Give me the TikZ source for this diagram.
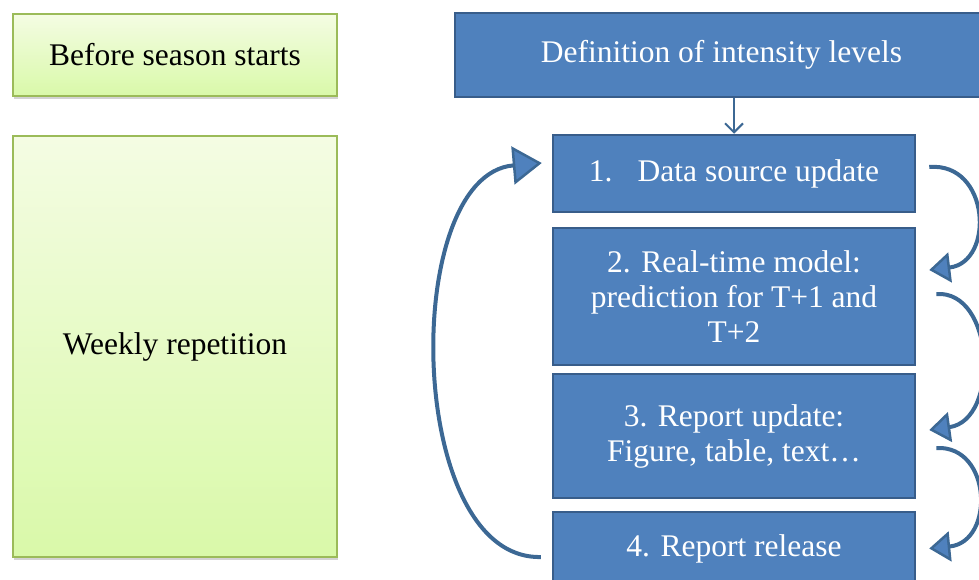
\documentclass[tikz,border=0pt]{standalone}
\usepackage{fontspec}
\setmainfont{Liberation Serif}
\usetikzlibrary{arrows.meta,shadows}
\definecolor{bfill}{HTML}{4F81BD}
\definecolor{bline}{HTML}{385D8A}
\definecolor{arr}{HTML}{3C6894}
\definecolor{gline}{HTML}{9BBB59}
\definecolor{gtop}{HTML}{F4FCE3}
\definecolor{gbot}{HTML}{D9F9A9}
\begin{document}
\begin{tikzpicture}[x=1pt,y=-1pt,
  greenbox/.style={draw=gline, line width=1.5pt, top color=gtop, bottom color=gbot,
    drop shadow={shadow xshift=1pt, shadow yshift=-3pt, opacity=0.35},
    inner sep=0pt, font=\fontsize{31.5}{35}\selectfont, text=black, align=center},
  bluebox/.style={draw=bline, line width=2.5pt, fill=bfill, inner sep=0pt,
    font=\fontsize{31.5}{35}\selectfont, text=white, align=center},
  flow/.style={draw=arr, line width=4pt,
    -{Triangle[length=21pt,width=30pt,fill=bfill,line width=2.5pt]}},
  bigflow/.style={draw=arr, line width=4pt,
    -{Triangle[length=29pt,width=38pt,fill=bfill,line width=2.5pt]}},
  thin/.style={draw=arr, line width=2pt, -{Straight Barb[length=9pt,width=18pt,line width=2pt]}}]
\useasboundingbox (0,0) rectangle (979,580);
\begin{scope}
\clip (0,0) rectangle (979,580);
\node[greenbox, minimum width=324pt, minimum height=82pt] (g1) at (175,55) {Before season starts};
\node[greenbox, minimum width=324pt, minimum height=421pt] (g2) at (175,346.5) {Weekly repetition};

\node[bluebox, minimum width=533pt, minimum height=84pt] (d) at (721.5,55) {Definition of intensity levels};
\node[bluebox, minimum width=362pt, minimum height=77pt] (b1) at (734,173.5) {1.\hspace{0.8em}Data source update};
\node[bluebox, minimum width=362pt, minimum height=137pt] (b2) at (734,296.5) {2. Real-time model:\\prediction for T+1 and\\T+2};
\node[bluebox, minimum width=362pt, minimum height=124pt] (b3) at (734,436) {3. Report update:\\Figure, table, text\dots};
\node[bluebox, minimum width=362pt, minimum height=73pt] (b4) at (734,548.5) {4. Report release};

\draw[thin] (d.south -| b1.north) -- (b1.north);

\coordinate (s1) at ([xshift=13pt,yshift=6.5pt]b1.east);
\coordinate (e1) at ([xshift=13pt,yshift=26.5pt]b2.east);
\coordinate (s2) at ([xshift=20pt,yshift=2.5pt]b2.east);
\coordinate (e2) at ([xshift=13pt,yshift=6pt]b3.east);
\coordinate (s3) at ([xshift=20pt,yshift=-12pt]b3.east);
\coordinate (e3) at ([xshift=13pt,yshift=0pt]b4.east);
\coordinate (s4) at ([xshift=-11pt,yshift=-8.5pt]b4.west);
\coordinate (e4) at ([xshift=-10pt,yshift=10.5pt]b1.west);

\draw[flow] (s1) .. controls (990,162) and (995,262) .. (e1);
\draw[flow] (s2) .. controls (995,290) and (1000,420) .. (e2);
\draw[flow] (s3) .. controls (992,445) and (995,542) .. (e3);
\draw[bigflow] (s4) .. controls (405,560) and (400,175) .. (e4);
\end{scope}
\end{tikzpicture}
\end{document}
